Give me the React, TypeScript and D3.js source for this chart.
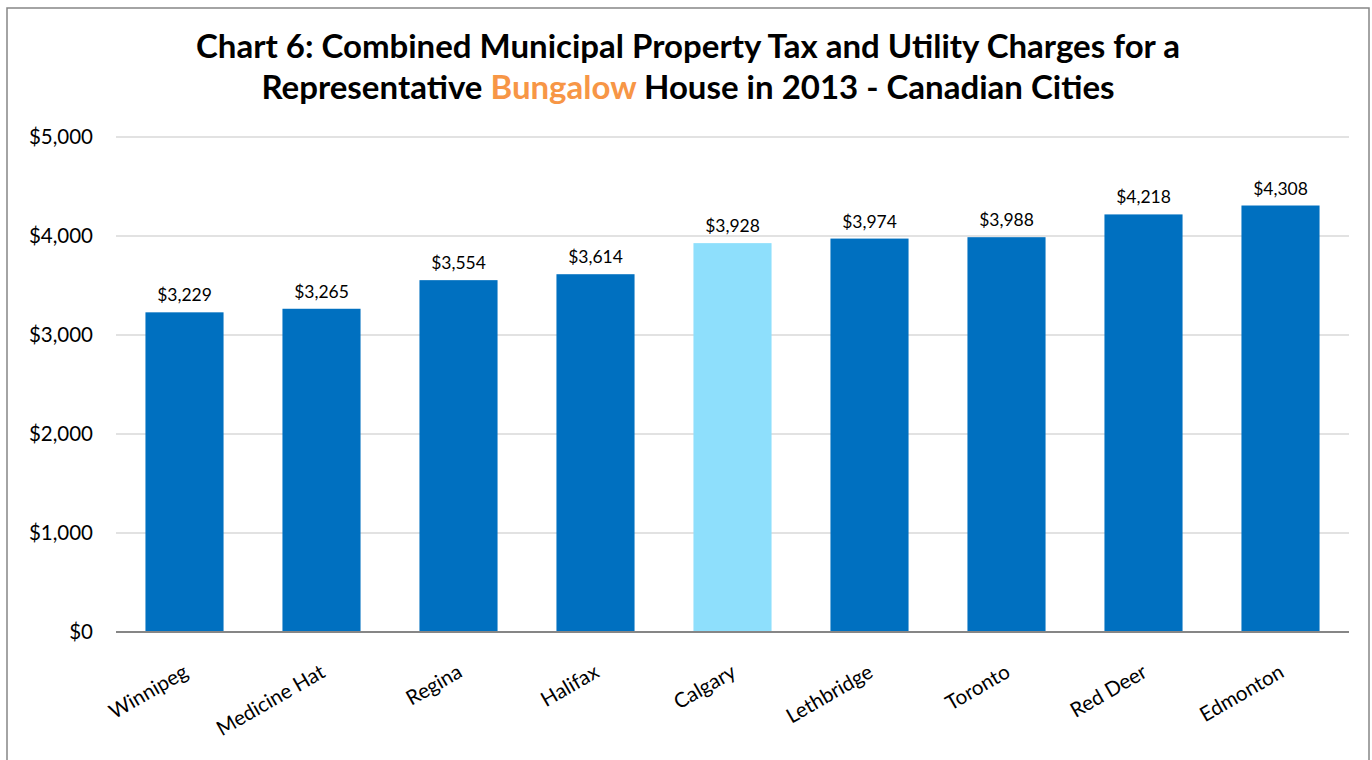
import React from "react";
import * as d3 from "d3";

const cities = ["Winnipeg", "Medicine Hat", "Regina", "Halifax", "Calgary", "Lethbridge", "Toronto", "Red Deer", "Edmonton"];
const values = [3229, 3265, 3554, 3614, 3928, 3974, 3988, 4218, 4308];
const highlight = ["Calgary"];
const yTicks = [0, 1000, 2000, 3000, 4000, 5000];

const W = 1372, H = 760;
const M = { left: 116, right: 1349, top: 137, bottom: 632 };
const FONT = "Lato, 'Open Sans', sans-serif";

export default function App() {
  const x = d3.scaleBand<string>().domain(cities).range([M.left, M.right]).paddingInner(0.43).paddingOuter(0.215);
  const y = d3.scaleLinear().domain([0, 5000]).range([M.bottom, M.top]);
  const fmt = (v: number) => "$" + d3.format(",")(v);
  return (
    <svg width={W} height={H} style={{ position: "absolute", left: 0, top: 0, background: "#fff" }}>
      <rect x={7} y={8} width={1362} height={770} fill="#fff" stroke="#868686" strokeWidth={1.5} />
      <text x={688} y={58} textAnchor="middle" fontFamily={FONT} fontWeight={700} fontSize={33} fill="#000">
        Chart 6: Combined Municipal Property Tax and Utility Charges for a
      </text>
      <text x={688} y={99} textAnchor="middle" fontFamily={FONT} fontWeight={700} fontSize={33} fill="#000">
        Representative <tspan fill="#F79646">Bungalow</tspan> House in 2013 - Canadian Cities
      </text>
      {yTicks.map((t) => (
        <g key={t}>
          {t > 0 && <line x1={M.left} x2={M.right} y1={y(t)} y2={y(t)} stroke="#D9D9D9" strokeWidth={1.5} />}
          <text x={93} y={y(t)} dy="0.35em" textAnchor="end" fontFamily={FONT} fontSize={20.5} fill="#000">
            {fmt(t)}
          </text>
        </g>
      ))}
      {cities.map((c, i) => {
        const bx = x(c)!;
        const cx = bx + x.bandwidth() / 2;
        return (
          <g key={c}>
            <rect x={bx} y={y(values[i])} width={x.bandwidth()} height={y(0) - y(values[i])}
              fill={highlight.includes(c) ? "#8EDFFC" : "#0070C0"} />
            <text x={cx} y={y(values[i]) - 11} textAnchor="middle" fontFamily={FONT} fontSize={17.5} fill="#000">
              {fmt(values[i])}
            </text>
            <text transform={`translate(${cx + 5},${y(0) + 44}) rotate(-30)`} textAnchor="end"
              fontFamily={FONT} fontSize={20.5} fill="#000">
              {c}
            </text>
          </g>
        );
      })}
      <line x1={M.left} x2={M.right} y1={y(0)} y2={y(0)} stroke="#868686" strokeWidth={2} />
    </svg>
  );
}
